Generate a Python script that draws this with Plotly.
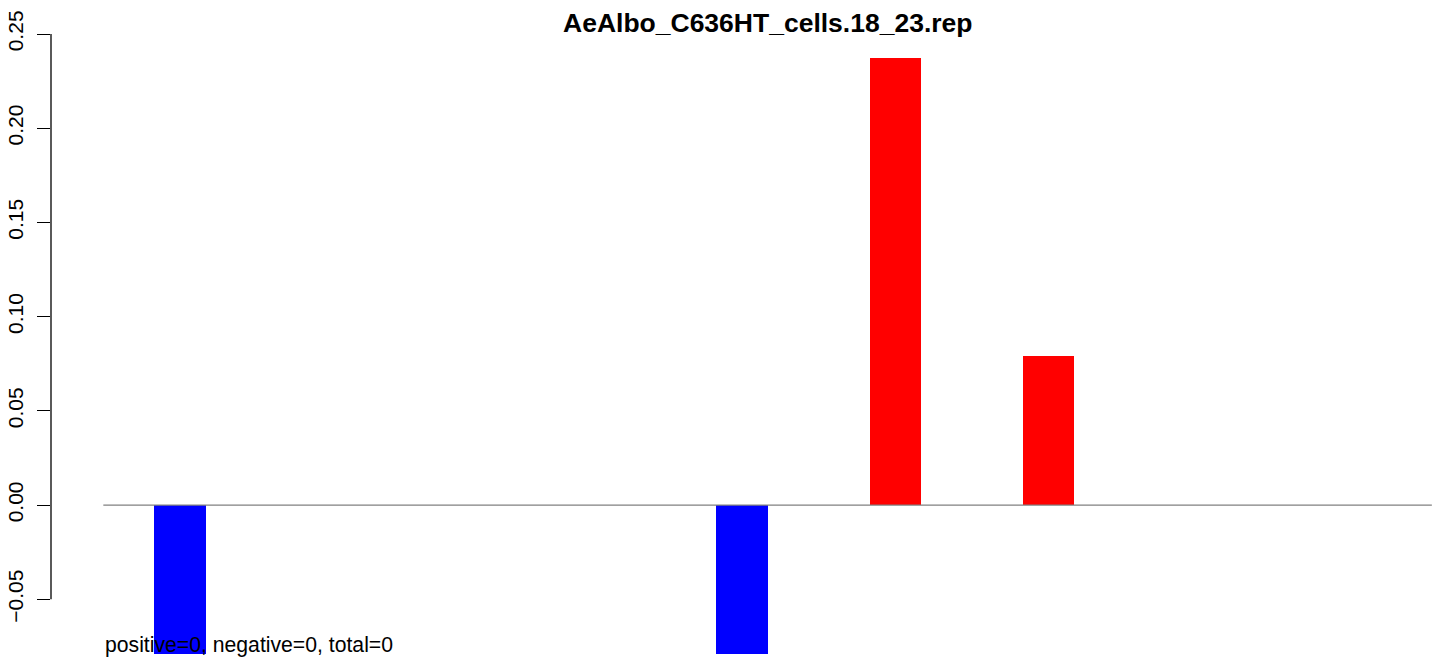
import plotly.graph_objects as go

# Data
positions = list(range(26))
values = [0.0] * 26
values[1] = -0.0791
values[12] = -0.0791
values[15] = 0.2373
values[18] = 0.0791
tick_vals = [-0.05, 0.0, 0.05, 0.10, 0.15, 0.20, 0.25]
tick_text = ["\u22120.05", "0.00", "0.05", "0.10", "0.15", "0.20", "0.25"]
title_text = "AeAlbo_C636HT_cells.18_23.rep"
note_text = "positive=0, negative=0, total=0"

colors = ["red" if v > 0 else "blue" for v in values]
FONT = "Liberation Sans, Arial, Helvetica, sans-serif"

fig = go.Figure()
fig.add_trace(go.Bar(x=positions, y=values, width=1.0,
                     marker=dict(color=colors, line=dict(width=0)),
                     hoverinfo="skip", cliponaxis=False))

# zero line
fig.add_shape(type="line", xref="x", yref="y", x0=-0.5, x1=25.5, y0=0, y1=0,
              line=dict(color="#808080", width=1.3), layer="above")
# R-style y axis line spanning tick range
fig.add_shape(type="line", xref="paper", yref="y", x0=0, x1=0,
              y0=tick_vals[0], y1=tick_vals[-1],
              line=dict(color="black", width=1.3))

fig.add_annotation(text="<b>" + title_text + "</b>", xref="x", yref="paper",
                   x=12.5, y=1.0, yanchor="middle", yshift=-8, showarrow=False,
                   font=dict(family=FONT, size=26.5, color="black"))
fig.add_annotation(text=note_text, xref="x", yref="y", x=-0.5, y=-0.0743,
                   xanchor="left", yanchor="middle", showarrow=False,
                   font=dict(family=FONT, size=21.2, color="black"))

fig.update_layout(
    width=1439, height=661,
    margin=dict(l=51, r=0, t=15, b=5, autoexpand=False),
    plot_bgcolor="white", paper_bgcolor="white",
    showlegend=False, bargap=0,
    font=dict(family=FONT, size=20, color="black"),
    xaxis=dict(range=[-1.524, 25.64], visible=False, showgrid=False,
               zeroline=False, automargin=False),
    yaxis=dict(range=[-0.0801, 0.2601], tickvals=tick_vals, ticktext=tick_text,
               ticks="outside", ticklen=13, tickwidth=1.3, tickcolor="black",
               tickangle=-90, showgrid=False, zeroline=False, showline=False,
               automargin=False, ticklabelstandoff=6,
               tickfont=dict(family=FONT, size=21, color="black")),
)

fig.write_html("out.html", config={"displayModeBar": False},
               post_script="document.body.style.margin='0';document.body.style.overflow='hidden';")
